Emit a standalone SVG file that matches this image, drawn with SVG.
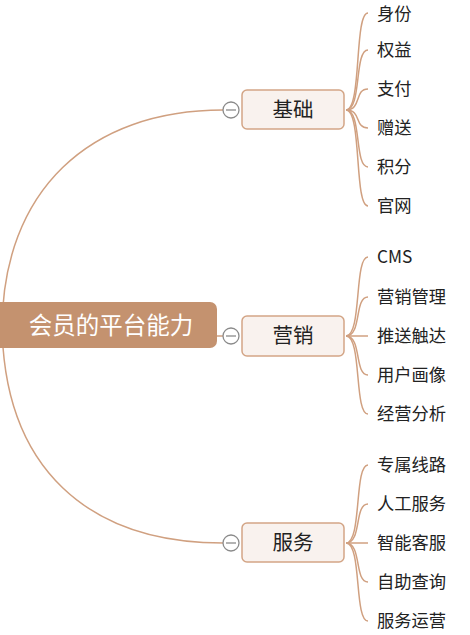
<svg xmlns="http://www.w3.org/2000/svg" width="470" height="635" viewBox="0 0 470 635">
<style>
text{font-family:"Noto Sans CJK SC","Noto Sans",sans-serif;}
.root{fill:#c4926f;}
.rt{fill:#ffffff;font-size:23.5px;}
.br{fill:#f9f2ee;stroke:#d3a586;stroke-width:1.5;}
.bt{fill:#222;font-size:20.5px;}
.lt{fill:#222;font-size:17.3px;}
.c{fill:none;stroke:#d0a080;stroke-width:1.5;}
.tog{fill:#fff;stroke:#8a8a8a;stroke-width:1.3;}
</style>
<rect width="470" height="635" fill="#ffffff"/>
<g id="connectors">
<path class="c" d="M2,330 C2,190 90,110 223,110"/>
<path class="c" d="M217,336 L223,336"/>
<path class="c" d="M2,320 C2,470 90,543 223,543"/>
<path class="c" d="M346,110 C362,110 354,13 368,13"/>
<path class="c" d="M346,110 C362,110 354,50 368,50"/>
<path class="c" d="M346,110 C362,110 354,89 368,89"/>
<path class="c" d="M346,110 C362,110 354,128 368,128"/>
<path class="c" d="M346,110 C362,110 354,167 368,167"/>
<path class="c" d="M346,110 C362,110 354,206 368,206"/>
<path class="c" d="M346,336 C362,336 354,257 368,257"/>
<path class="c" d="M346,336 C362,336 354,297 368,297"/>
<path class="c" d="M346,336 L368,336"/>
<path class="c" d="M346,336 C362,336 354,375 368,375"/>
<path class="c" d="M346,336 C362,336 354,414 368,414"/>
<path class="c" d="M346,543 C362,543 354,465 368,465"/>
<path class="c" d="M346,543 C362,543 354,504 368,504"/>
<path class="c" d="M346,543 L368,543"/>
<path class="c" d="M346,543 C362,543 354,582 368,582"/>
<path class="c" d="M346,543 C362,543 354,621 368,621"/>
</g>
<g id="root">
<rect class="root" x="-8" y="302" width="225" height="46" rx="7"/>
<text class="rt" x="111" y="334" text-anchor="middle">会员的平台能力</text>
</g>
<g id="b1">
<rect class="br" x="242" y="90" width="102" height="39" rx="5"/>
<text class="bt" x="293" y="117" text-anchor="middle">基础</text>
<circle class="tog" cx="231" cy="110" r="8"/><line x1="226" y1="110" x2="236" y2="110" stroke="#8a8a8a" stroke-width="1.3"/>
</g>
<g id="b2">
<rect class="br" x="242" y="316" width="102" height="40" rx="5"/>
<text class="bt" x="293" y="343" text-anchor="middle">营销</text>
<circle class="tog" cx="231" cy="336" r="8"/><line x1="226" y1="336" x2="236" y2="336" stroke="#8a8a8a" stroke-width="1.3"/>
</g>
<g id="b3">
<rect class="br" x="242" y="523" width="102" height="39" rx="5"/>
<text class="bt" x="293" y="550" text-anchor="middle">服务</text>
<circle class="tog" cx="231" cy="543" r="8"/><line x1="226" y1="543" x2="236" y2="543" stroke="#8a8a8a" stroke-width="1.3"/>
</g>
<g id="leaves">
<text class="lt" x="377" y="19.5">身份</text>
<text class="lt" x="377" y="56">权益</text>
<text class="lt" x="377" y="95">支付</text>
<text class="lt" x="377" y="134">赠送</text>
<text class="lt" x="377" y="173">积分</text>
<text class="lt" x="377" y="212">官网</text>
<text class="lt" x="377" y="263">CMS</text>
<text class="lt" x="377" y="303">营销管理</text>
<text class="lt" x="377" y="342">推送触达</text>
<text class="lt" x="377" y="381">用户画像</text>
<text class="lt" x="377" y="420">经营分析</text>
<text class="lt" x="377" y="471">专属线路</text>
<text class="lt" x="377" y="510">人工服务</text>
<text class="lt" x="377" y="549">智能客服</text>
<text class="lt" x="377" y="588">自助查询</text>
<text class="lt" x="377" y="627">服务运营</text>
</g>
</svg>
